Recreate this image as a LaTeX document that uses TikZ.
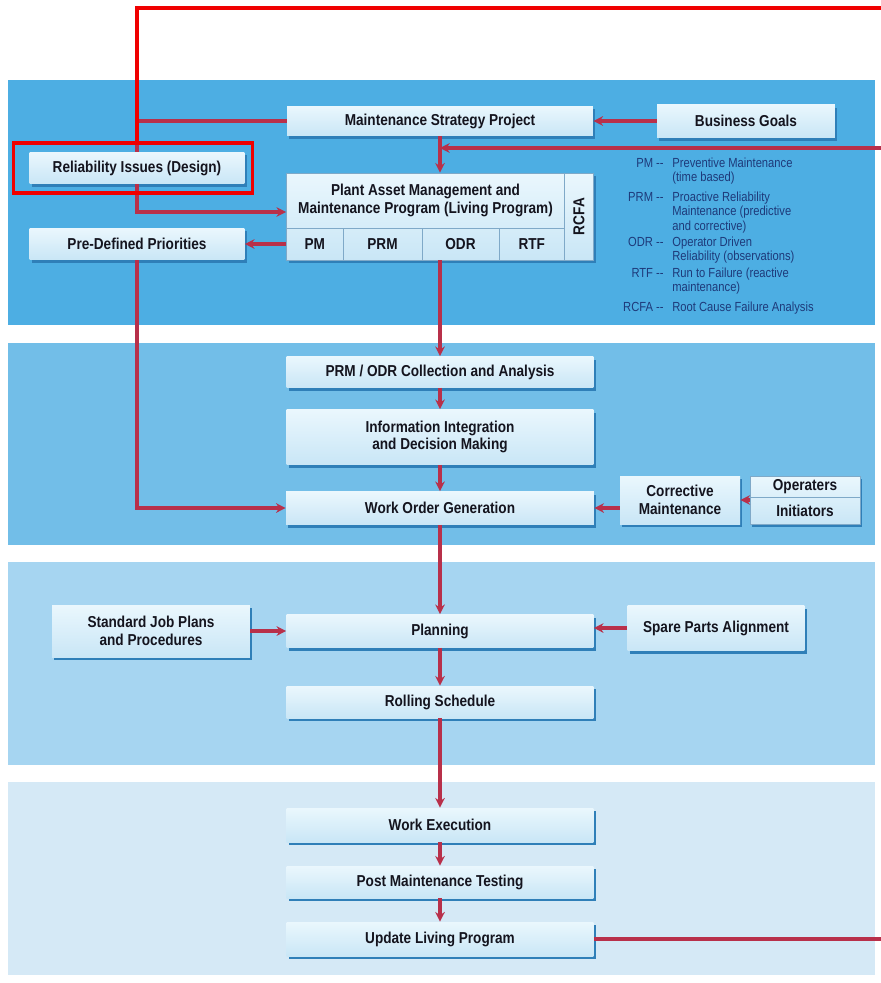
\documentclass[tikz,border=0pt]{standalone}
\usepackage{fontspec}
\newfontfamily\boxfont{Liberation Sans}[FakeStretch=0.86]
\newfontfamily\legfont{Liberation Sans}[FakeStretch=0.85]
\usetikzlibrary{arrows.meta,shadows,positioning,calc}
\definecolor{bandA}{HTML}{4DAEE3}
\definecolor{bandB}{HTML}{72BEE8}
\definecolor{bandC}{HTML}{A6D5F1}
\definecolor{bandD}{HTML}{D5E9F6}
\definecolor{boxtop}{HTML}{EAF7FD}
\definecolor{boxbot}{HTML}{C9E6F6}
\definecolor{boxshade}{HTML}{2F7FB8}
\definecolor{cellline}{HTML}{7FA9C8}
\definecolor{boxtext}{HTML}{14141E}
\definecolor{legtext}{HTML}{1E3A7A}
\definecolor{arrowred}{HTML}{B8304A}
\definecolor{hilite}{HTML}{F00000}

\begin{document}
\begin{tikzpicture}[x=0.02cm, y=-0.02cm,
    box/.style={top color=boxtop, bottom color=boxbot, inner sep=1pt, align=center,
        font=\boxfont\bfseries\fontsize{9}{10}\selectfont, text=boxtext,
        drop shadow={shadow xshift=1.4pt, shadow yshift=-1.8pt, fill=boxshade, opacity=1}},
    cell/.style={draw=cellline, line width=0.5pt, inner sep=0pt, align=center,
        font=\boxfont\bfseries\fontsize{9}{10}\selectfont, text=boxtext},
    leg/.style={font=\legfont\fontsize{7.5}{8}\selectfont, text=legtext, inner sep=0pt, align=left},
    arr/.style={-{Stealth[length=5.5pt, width=5.5pt]}, line width=1.8pt, draw=arrowred},
    line/.style={line width=1.9pt, draw=arrowred},
    hl/.style={draw=hilite, line width=2.2pt}
]
\useasboundingbox (0,0) rectangle (881,983);
\fill[bandA] (8,80) rectangle (875,325);
\fill[bandB] (8,343) rectangle (875,545);
\fill[bandC] (8,562) rectangle (875,765);
\fill[bandD] (8,782) rectangle (875,975);

\node[box, minimum width=6.12cm, minimum height=0.6cm] (msp) at (440,121) {Maintenance Strategy Project};
\node[box, minimum width=3.56cm, minimum height=0.66cm] (goals) at (746,121) {Business Goals};
\node[box, minimum width=4.3cm, minimum height=0.64cm] (rel) at (137,168) {Reliability Issues (Design)};
\node[box, minimum width=4.3cm, minimum height=0.64cm] (pdp) at (137,244) {Pre-Defined Priorities};
\node[box, minimum width=6.14cm, minimum height=1.74cm] (pamall) at (440,216.5) {};
\node[cell, minimum width=5.56cm, minimum height=1.1cm] (pam) at (425.5,200.5) {Plant Asset Management and\\Maintenance Program (Living Program)};
\node[cell, minimum width=1.13cm, minimum height=0.64cm] (pm) at (314.75,244) {PM};
\node[cell, minimum width=1.58cm, minimum height=0.64cm] (prm) at (382.5,244) {PRM};
\node[cell, minimum width=1.54cm, minimum height=0.64cm] (odr) at (460.5,244) {ODR};
\node[cell, minimum width=1.31cm, minimum height=0.64cm] (rtf) at (531.75,244) {RTF};
\node[cell, rotate=90, minimum width=1.74cm, minimum height=0.58cm] (rcfa) at (579,216.5) {RCFA};

\node[leg, anchor=north east] (kpm) at (664,158) {PM --};
\node[leg, anchor=north west] (dpm) at (672,158) {Preventive Maintenance\\(time based)};
\node[leg, anchor=north east] (kprm) at (664,192) {PRM --};
\node[leg, anchor=north west] (dprm) at (672,192) {Proactive Reliability\\Maintenance (predictive\\and corrective)};
\node[leg, anchor=north east] (kodr) at (664,237) {ODR --};
\node[leg, anchor=north west] (dodr) at (672,237) {Operator Driven\\Reliability (observations)};
\node[leg, anchor=north east] (krtf) at (664,268) {RTF --};
\node[leg, anchor=north west] (drtf) at (672,268) {Run to Failure (reactive\\maintenance)};
\node[leg, anchor=north east] (krcfa) at (664,302) {RCFA --};
\node[leg, anchor=north west] (drcfa) at (672,302) {Root Cause Failure Analysis};

\node[box, minimum width=6.14cm, minimum height=0.62cm] (coll) at (440,372) {PRM / ODR Collection and Analysis};
\node[box, minimum width=6.14cm, minimum height=1.1cm] (integ) at (440,437) {Information Integration\\and Decision Making};
\node[box, minimum width=6.16cm, minimum height=0.66cm] (wog) at (440,508) {Work Order Generation};
\node[box, minimum width=2.4cm, minimum height=0.96cm] (corr) at (680,500) {Corrective\\Maintenance};
\node[box, minimum width=2.2cm, minimum height=0.96cm] (opall) at (805,500) {};
\node[cell, minimum width=2.2cm, minimum height=0.42cm] (op) at (805,487) {Operaters};
\node[cell, minimum width=2.2cm, minimum height=0.54cm] (init) at (805,511) {Initiators};

\node[box, minimum width=3.96cm, minimum height=1.04cm] (sjp) at (151,631) {Standard Job Plans\\and Procedures};
\node[box, minimum width=6.14cm, minimum height=0.66cm] (plan) at (440,631) {Planning};
\node[box, minimum width=3.54cm, minimum height=0.9cm] (spare) at (716,628) {Spare Parts Alignment};
\node[box, minimum width=6.14cm, minimum height=0.64cm] (roll) at (440,702) {Rolling Schedule};

\node[box, minimum width=6.14cm, minimum height=0.68cm] (exec) at (440,825) {Work Execution};
\node[box, minimum width=6.14cm, minimum height=0.64cm] (pmt) at (440,882) {Post Maintenance Testing};
\node[box, minimum width=6.14cm, minimum height=0.68cm] (upd) at (440,939) {Update Living Program};

\coordinate (fbin) at (881,148);
\coordinate (fbout) at (881,939);
\coordinate (topend) at (881,8);

\draw[arr] (goals) -- (msp);
\draw[line] (msp.west) -| (rel.north);
\draw[arr] (msp) -- (pamall);
\draw[arr] (fbin) -- (fbin -| msp);
\draw[arr] (rel.south) |- ([yshift=-0.23cm]pam.west);
\draw[arr] (pm.west) -- (pdp.east);
\draw[arr] (pamall) -- (coll);
\draw[arr] (coll) -- (integ);
\draw[arr] (integ) -- (wog);
\draw[arr] (pdp.south) |- (wog.west);
\draw[arr] (corr.west |- wog.east) -- (wog.east);
\draw[arr] (opall) -- (corr);
\draw[arr] (wog) -- (plan);
\draw[arr] (sjp) -- (plan);
\draw[arr] (spare.west) -- (spare.west -| plan.east);
\draw[arr] (plan) -- (roll);
\draw[arr] (roll) -- (exec);
\draw[arr] (exec) -- (pmt);
\draw[arr] (pmt) -- (upd);
\draw[line] (upd.east) -- (upd.east -| fbout);

\node[hl, minimum width=4.78cm, minimum height=1.0cm] (relframe) at (133,168) {};
\draw[hl] (relframe.north -| rel.north) |- (topend);
\end{tikzpicture}
\end{document}
